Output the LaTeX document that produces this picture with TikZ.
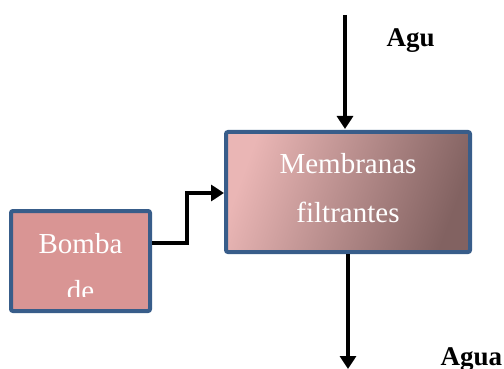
\documentclass[tikz,border=0pt]{standalone}
\usepackage{fontspec}
\setmainfont{Liberation Serif}
\usepackage{xcolor}
\usetikzlibrary{arrows.meta,positioning}
\definecolor{frame}{RGB}{56,93,138}
\definecolor{pump}{RGB}{217,149,148}
\definecolor{memlight}{RGB}{234,182,181}
\definecolor{memdark}{RGB}{130,98,97}

\begin{document}
\begin{tikzpicture}[x=1pt,y=-1pt,
  box/.style={draw=frame,line width=4pt,rounded corners=2pt,inner sep=0pt},
  boxtxt/.style={text=white,font=\fontsize{29}{49}\selectfont,align=center},
  lbl/.style={font=\fontsize{27}{30}\selectfont\bfseries,anchor=base west},
  arr/.style={-{Triangle[length=13pt,width=16pt]},line width=4.5pt,black}]
\useasboundingbox (0,0) rectangle (504,369);
\node[box,fill=pump,minimum width=139pt,minimum height=100pt] (bomba) at (80.5,261) {};
\node[box,left color=memlight,right color=memdark,shading angle=70,
  minimum width=244pt,minimum height=120pt] (memb) at (348,192) {};
\node[boxtxt] (membtxt) at (348,188) {Membranas\\filtrantes};
\begin{scope}
  \clip (13,213) rectangle (148,296);
  \node[boxtxt,anchor=base] (bombaA) at (80.5,253) {Bomba};
  \node[boxtxt,anchor=base] (bombaB) at (80.5,300) {de};
\end{scope}
\coordinate (topin) at (345,15);
\coordinate (botout) at (348,369);
\node[lbl] (aguin) at (383,47) {Agu};
\node[lbl] (aguaout) at (437,365) {Agua};
\draw[arr] ([yshift=18pt]bomba.east) -- ++(35,0) |- ([yshift=-1pt]memb.west);
\draw[arr,shorten >=1pt] (topin) -- (topin |- memb.north);
\draw[arr] (memb.south) -- (botout);
\end{tikzpicture}
\end{document}
